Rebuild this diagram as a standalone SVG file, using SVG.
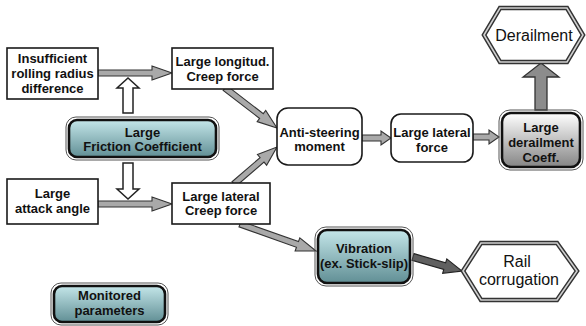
<svg xmlns="http://www.w3.org/2000/svg" width="586" height="326" viewBox="0 0 586 326">
  <defs>
    <linearGradient id="teal" x1="0" y1="0" x2="0" y2="1">
      <stop offset="0" stop-color="#c4e6e9"/>
      <stop offset="1" stop-color="#618f95"/>
    </linearGradient>
    <linearGradient id="grey" x1="0" y1="0" x2="0" y2="1">
      <stop offset="0" stop-color="#ffffff"/>
      <stop offset="1" stop-color="#858585"/>
    </linearGradient>
    <style>
      .box { fill: #ffffff; stroke: #1a1a1a; stroke-width: 1.6; }
      .dbl-out { fill: none; stroke: #555; stroke-width: 1; }
      .dbl-in { stroke: #111; stroke-width: 2.6; }
      .hex-out { fill: #ffffff; stroke: #333; stroke-width: 4.5; stroke-linejoin: miter; }
      .hex-in { fill: none; stroke: #d0d0d0; stroke-width: 1.6; stroke-linejoin: miter; }
      .lbl { font-family: "Liberation Sans", Arial, sans-serif; font-size: 13px; font-weight: bold; fill: #111; text-anchor: middle; }
      .plain { font-family: "Liberation Sans", Arial, sans-serif; font-size: 16px; fill: #111; text-anchor: middle; }
      .arr { fill: #a9a9a9; stroke: #333; stroke-width: 1.1; stroke-linejoin: miter; }
      .arr-dark { fill: #606060; stroke: #222; stroke-width: 1.1; }
      .hollow { fill: #ffffff; stroke: #222; stroke-width: 1.5; }
      .up { fill: #8c8c8c; stroke: #333; stroke-width: 1.3; }
    </style>
  </defs>

  <!-- connectors -->
  <g id="connectors">
    <!-- friction coefficient influences -->
    <path class="hollow" d="M123,113 L123,88 L117,88 L128,78 L139,88 L133,88 L133,113 Z"/>
    <path class="hollow" d="M123,163 L123,189 L117,189 L128,199 L139,189 L133,189 L133,163 Z"/>
    <!-- block arrows: shaft along +x, tip at the end -->
    <path class="arr" transform="translate(98,73)" d="M0,-3 L54,-3 L54,-7 L74,0 L54,7 L54,3 L0,3 Z"/>
    <path class="arr" transform="translate(98,204)" d="M0,-3 L54,-3 L54,-7 L74,0 L54,7 L54,3 L0,3 Z"/>
    <path class="arr" transform="translate(225,88) rotate(37.6)" d="M0,-3 L46,-3 L46,-7 L65.6,0 L46,7 L46,3 L0,3 Z"/>
    <path class="arr" transform="translate(234,184) rotate(-40.7)" d="M0,-3 L37,-3 L37,-7 L56.7,0 L37,7 L37,3 L0,3 Z"/>
    <path class="arr" transform="translate(362,138)" d="M0,-3 L19,-3 L19,-7 L29,0 L19,7 L19,3 L0,3 Z"/>
    <path class="arr" transform="translate(473,137)" d="M0,-3 L16,-3 L16,-7 L26,0 L16,7 L16,3 L0,3 Z"/>
    <path class="arr" transform="translate(240,224) rotate(19.6)" d="M0,-3 L61,-3 L61,-7 L80.7,0 L61,7 L61,3 L0,3 Z"/>
    <path class="arr-dark" transform="translate(413,257) rotate(16)" d="M0,-3.5 L33,-3.5 L33,-7.5 L51,0 L33,7.5 L33,3.5 L0,3.5 Z"/>
    <!-- derailment coefficient to derailment -->
    <path class="up" d="M535,110 L535,77 L523,77 L541,63 L559,77 L547,77 L547,110 Z"/>
  </g>

  <g id="insufficient-radius">
    <rect class="box" x="7" y="48" width="91" height="51"/>
    <text class="lbl" x="52.5" y="63">Insufficient</text>
    <text class="lbl" x="52.5" y="78">rolling radius</text>
    <text class="lbl" x="52.5" y="93">difference</text>
  </g>

  <g id="longitudinal-creep">
    <rect class="box" x="172" y="48" width="101" height="41"/>
    <text class="lbl" x="222.5" y="66">Large longitud.</text>
    <text class="lbl" x="222.5" y="81">Creep force</text>
  </g>

  <g id="friction">
    <rect class="dbl-out" x="66" y="117" width="153" height="43" rx="10"/>
    <rect class="dbl-in" fill="url(#teal)" x="69" y="120" width="147" height="37" rx="8"/>
    <text class="lbl" x="142.5" y="137">Large</text>
    <text class="lbl" x="142.5" y="151">Friction Coefficient</text>
  </g>

  <g id="attack-angle">
    <rect class="box" x="7" y="179" width="91" height="45"/>
    <text class="lbl" x="52.5" y="198">Large</text>
    <text class="lbl" x="52.5" y="213">attack angle</text>
  </g>

  <g id="lateral-creep">
    <rect class="box" x="172" y="183" width="98" height="41"/>
    <text class="lbl" x="221" y="201">Large lateral</text>
    <text class="lbl" x="221" y="215">Creep force</text>
  </g>

  <g id="anti-steering">
    <rect class="box" x="277" y="108" width="85" height="57" rx="11"/>
    <text class="lbl" x="319.5" y="137">Anti-steering</text>
    <text class="lbl" x="319.5" y="151">moment</text>
  </g>

  <g id="lateral-force">
    <rect class="box" x="391" y="114" width="82" height="48" rx="10"/>
    <text class="lbl" x="432" y="137">Large lateral</text>
    <text class="lbl" x="432" y="152">force</text>
  </g>

  <g id="derailment-coeff">
    <rect class="dbl-out" x="499" y="110" width="84" height="60" rx="11"/>
    <rect class="dbl-in" fill="url(#grey)" x="502" y="113" width="78" height="54" rx="9"/>
    <text class="lbl" x="541" y="132">Large</text>
    <text class="lbl" x="541" y="147">derailment</text>
    <text class="lbl" x="541" y="162">Coeff.</text>
  </g>

  <g id="derailment">
    <polygon class="hex-out" points="484,35 500,8 567,8 583,35 567,62 500,62"/>
    <polygon class="hex-in" points="484,35 500,8 567,8 583,35 567,62 500,62"/>
    <text class="plain" x="534" y="41">Derailment</text>
  </g>

  <g id="vibration">
    <rect class="dbl-out" x="315" y="227" width="98" height="59" rx="11"/>
    <rect class="dbl-in" fill="url(#teal)" x="318" y="230" width="92" height="53" rx="9"/>
    <text class="lbl" x="364" y="253">Vibration</text>
    <text class="lbl" x="364" y="268">(ex. Stick-slip)</text>
  </g>

  <g id="rail-corrugation">
    <polygon class="hex-out" points="463,271 481,243 557,243 577,271 557,300 481,300"/>
    <polygon class="hex-in" points="463,271 481,243 557,243 577,271 557,300 481,300"/>
    <text class="plain" x="517" y="267">Rail</text>
    <text class="plain" x="519" y="285">corrugation</text>
  </g>

  <g id="monitored">
    <rect class="dbl-out" x="51" y="283" width="117" height="42" rx="10"/>
    <rect class="dbl-in" fill="url(#teal)" x="54" y="286" width="111" height="36" rx="8"/>
    <text class="lbl" x="109.5" y="300">Monitored</text>
    <text class="lbl" x="109.5" y="315">parameters</text>
  </g>
</svg>
